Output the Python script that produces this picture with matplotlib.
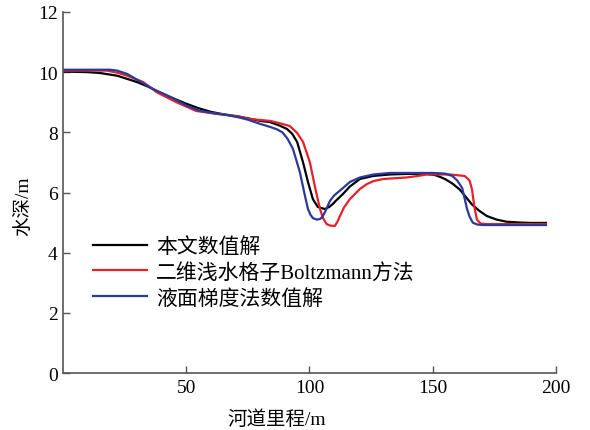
import matplotlib
matplotlib.use('Agg')
import matplotlib.pyplot as plt

plt.rcParams['font.family'] = ['Liberation Serif', 'Noto Sans CJK SC']

# 本文数值解
x_black = [0, 10, 15, 22, 30, 35, 39, 45, 50, 55, 60, 65, 71, 76, 80, 84, 88, 90.9, 93, 95,
           97.4, 99.4, 101.4, 103.4, 106.3, 108, 109.5, 111, 113.6, 116.4, 120.5, 125.8, 132.7,
           140, 147, 151, 153, 155, 158, 161, 163, 166, 169, 172, 176, 180, 186, 190, 196]
y_black = [10.02, 10.0, 9.97, 9.88, 9.67, 9.5, 9.33, 9.12, 8.95, 8.8, 8.68, 8.6, 8.53, 8.45, 8.38,
           8.34, 8.22, 8.11, 7.95, 7.68, 7.0, 6.35, 5.78, 5.52, 5.45, 5.52, 5.62, 5.75, 5.95,
           6.2, 6.45, 6.55, 6.6, 6.62, 6.62, 6.58, 6.52, 6.45, 6.3, 6.1, 5.9, 5.6, 5.39, 5.22,
           5.1, 5.03, 5.0, 4.99, 4.99]

# 二维浅水格子Boltzmann方法
x_red = [0, 10, 17.8, 22, 26, 32.5, 38, 46, 54, 60, 63.7, 71.8, 76, 80, 84, 88, 92, 95, 97.4,
         100.2, 102.2, 104.3, 105.5, 107, 108.5, 110.3, 111.3, 112.4, 114, 116.4, 117.6, 120.5,
         123.3, 126, 130, 139.5, 144, 147.7, 157, 163, 165, 166, 167, 168, 169.5, 172, 185, 196]
y_red = [10.05, 10.05, 10.05, 9.98, 9.88, 9.67, 9.33, 9.0, 8.71, 8.64, 8.61, 8.51, 8.44, 8.41,
         8.38, 8.3, 8.21, 7.98, 7.68, 7.0, 6.2, 5.45, 5.15, 4.95, 4.9, 4.89, 5.02, 5.22, 5.5,
         5.78, 5.88, 6.12, 6.28, 6.38, 6.45, 6.5, 6.55, 6.6, 6.6, 6.55, 6.4, 6.1, 5.5, 5.1,
         4.97, 4.95, 4.95, 4.95]

# 液面梯度法数值解
x_blue = [0, 10, 19, 22, 26, 31, 36.5, 43.4, 50.3, 55.6, 58, 62.5, 66, 70.6, 75, 80, 84, 86.8,
          89, 91, 93.3, 96.1, 98.2, 99.4, 100.5, 101.4, 103, 104.3, 105.3, 106.3, 108.3, 110,
          113.6, 116.4, 120.5, 126, 132.7, 140, 147, 150, 155, 158, 160, 162, 163, 164, 165,
          166.3, 168, 170, 185, 196]
y_blue = [10.08, 10.08, 10.08, 10.05, 9.94, 9.7, 9.44, 9.18, 8.88, 8.71, 8.68, 8.61, 8.58, 8.51,
          8.42, 8.28, 8.18, 8.1, 8.0, 7.8, 7.45, 6.68, 5.88, 5.45, 5.25, 5.15, 5.1, 5.12, 5.2,
          5.35, 5.72, 5.9, 6.15, 6.35, 6.5, 6.6, 6.65, 6.65, 6.65, 6.65, 6.63, 6.55, 6.4, 6.15,
          5.8, 5.45, 5.2, 5.0, 4.94, 4.92, 4.92, 4.92]

labels = ['本文数值解', '二维浅水格子Boltzmann方法', '液面梯度法数值解']
x_ticks = [50, 100, 150, 200]
y_ticks = [0, 2, 4, 6, 8, 10, 12]

fig = plt.figure(figsize=(5.9, 4.31), dpi=100)
ax = fig.add_axes([0.107, 0.132, 0.835, 0.838])

ax.plot(x_black, y_black, color='black', lw=1.6, label=labels[0])
ax.plot(x_red, y_red, color='#e8202a', lw=1.6, label=labels[1])
ax.plot(x_blue, y_blue, color='#2b3a9a', lw=1.6, label=labels[2])

ax.set_xlim(0, 200)
ax.set_ylim(0, 12)
ax.set_xticks(x_ticks)
ax.set_yticks(y_ticks)
ax.tick_params(direction='in', length=5, width=1, color='#555555', labelsize=14, pad=4)
for side in ['top', 'right']:
    ax.spines[side].set_visible(False)
for side in ['left', 'bottom']:
    ax.spines[side].set_color('#555555')
    ax.spines[side].set_linewidth(1.2)

ax.set_xlabel('河道里程/m', fontsize=14)
ax.set_ylabel('水深/m', fontsize=14)
ax.xaxis.set_label_coords(0.434, -0.1)
ax.yaxis.set_label_coords(-0.062, 0.465)

ax.legend(loc='center left', bbox_to_anchor=(0.04, 0.278), frameon=False, fontsize=15,
          handlelength=2.6, handletextpad=0.4, labelspacing=0.28, borderpad=0)

fig.savefig('out.png', dpi=100)
